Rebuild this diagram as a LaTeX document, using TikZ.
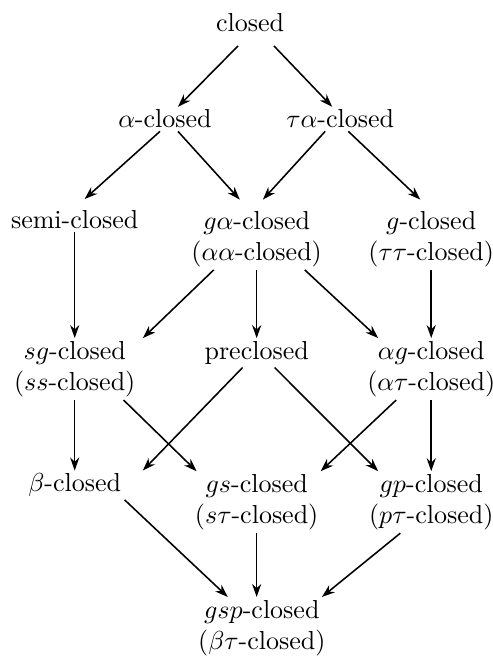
\documentclass[tikz,border=0pt]{standalone}
\usetikzlibrary{arrows.meta}

\begin{document}
\begin{tikzpicture}[
  every node/.style={inner sep=1pt,align=center},
  arr/.style={semithick,-{Stealth[length=5pt,width=3.5pt]}}]

\useasboundingbox (0,0) rectangle (6.66,8.95);

% Classes of sets
\node (closed) at (3.38,8.65) {closed};
\node (alpha) at (2.23,7.34) {$\alpha$-closed};
\node (talpha) at (4.60,7.34) {$\tau\alpha$-closed};
\node (semi) at (1.01,5.98) {semi-closed};
\node (galpha) at (3.47,5.72) {$g\alpha$-closed\\($\alpha\alpha$-closed)};
\node (gcl) at (5.83,5.72) {$g$-closed\\($\tau\tau$-closed)};
\node (sg) at (1.01,3.96) {$sg$-closed\\($ss$-closed)};
\node (pre) at (3.47,4.18) {preclosed};
\node (ag) at (5.83,3.96) {$\alpha g$-closed\\($\alpha\tau$-closed)};
\node (beta) at (1.01,2.39) {$\beta$-closed};
\node (gs) at (3.47,2.16) {$gs$-closed\\($s\tau$-closed)};
\node (gp) at (5.83,2.16) {$gp$-closed\\($p\tau$-closed)};
\node (gsp) at (3.54,0.46) {$gsp$-closed\\($\beta\tau$-closed)};

% Implications
\draw[arr] ([xshift=-4.6pt,yshift=-4.4pt]closed.south) -- ([xshift=5pt]alpha.north);
\draw[arr] ([xshift=9.2pt,yshift=-4.4pt]closed.south) -- ([xshift=-3.1pt]talpha.north);

\draw[arr] ([xshift=-1.9pt]alpha.south) -- ([xshift=3.8pt,yshift=3.2pt]semi.north);
\draw[arr] ([xshift=5pt]alpha.south) -- ([xshift=-6.5pt,yshift=3.2pt]galpha.north);
\draw[arr] ([xshift=-5.8pt]talpha.south) -- ([xshift=2.4pt,yshift=3.2pt]galpha.north);
\draw[arr] ([xshift=3.1pt]talpha.south) -- ([xshift=-4.2pt,yshift=3.2pt]gcl.north);

\draw[arr] (semi.south) -- (sg.north);
\draw[arr] ([xshift=-16.5pt]galpha.south) -- ([xshift=26.2pt]sg.north);
\draw[arr] (galpha.south) -- (pre.north);
\draw[arr] ([xshift=18.5pt]galpha.south) -- ([xshift=-20.4pt]ag.north);
\draw[arr] (gcl.south) -- (ag.north);

\draw[arr] (sg.south) -- (beta.north);
\draw[arr] ([xshift=18.8pt]sg.south) -- ([xshift=-23.1pt]gs.north);
\draw[arr] ([xshift=-5.4pt]pre.south) -- ([xshift=26.2pt]beta.north);
\draw[arr] ([xshift=6.9pt]pre.south) -- ([xshift=-20.4pt]gp.north);
\draw[arr] ([xshift=-13.5pt]ag.south) -- ([xshift=24.6pt]gs.north);
\draw[arr] (ag.south) -- (gp.north);

\draw[arr] ([xshift=19.2pt]beta.south) -- ([xshift=-13.1pt]gsp.north);
\draw[arr] (gs.south) -- (gs.south |- gsp.north);
\draw[arr] ([xshift=-11.9pt]gp.south) -- ([xshift=23.1pt]gsp.north);

\end{tikzpicture}
\end{document}
